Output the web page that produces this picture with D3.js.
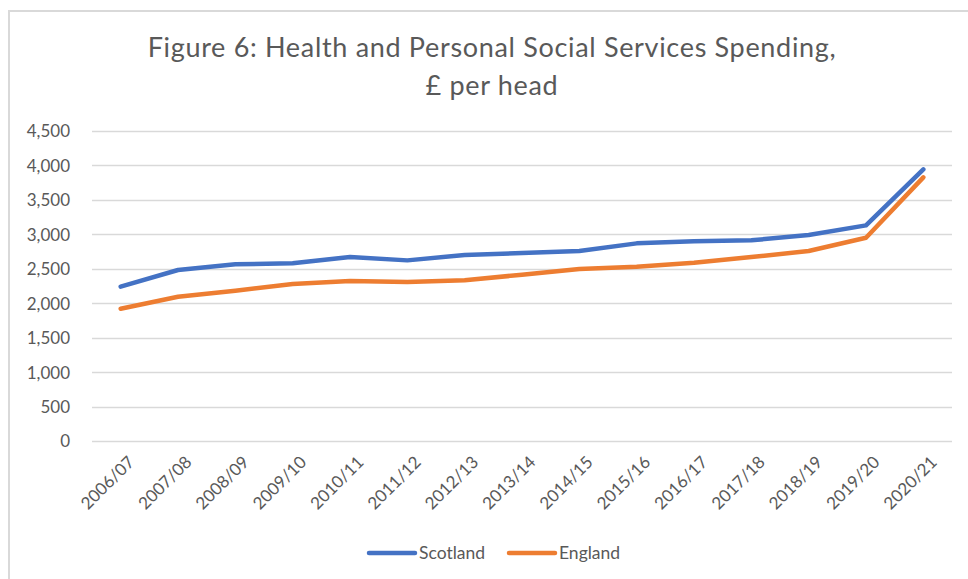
<!DOCTYPE html>
<html>
<head>
<meta charset="utf-8">
<script src="https://cdn.jsdelivr.net/npm/d3@7"></script>
<style>
  html, body { margin: 0; padding: 0; background: #fff; }
  svg { display: block; }
  text { font-family: Lato, "Open Sans", sans-serif; fill: #595959; }
</style>
</head>
<body>
<svg id="chart" width="968" height="579"></svg>
<script>
// Financial years on the category axis
const years = ["2006/07", "2007/08", "2008/09", "2009/10", "2010/11", "2011/12", "2012/13",
  "2013/14", "2014/15", "2015/16", "2016/17", "2017/18", "2018/19", "2019/20", "2020/21"];

// Health and personal social services spending, £ per head
const scotland = [2240, 2482, 2565, 2579, 2670, 2622, 2700, 2729, 2758, 2869, 2898, 2913, 2990, 3130, 3943];
const england  = [1920, 2094, 2181, 2279, 2322, 2308, 2332, 2414, 2496, 2530, 2588, 2670, 2758, 2951, 3827];

const yTicks = [0, 500, 1000, 1500, 2000, 2500, 3000, 3500, 4000, 4500];
const titleLines = ["Figure 6: Health and Personal Social Services Spending,", "£ per head"];

const series = [
  { name: "Scotland", values: scotland, color: "#4472C4" },
  { name: "England",  values: england,  color: "#ED7D31" }
];

const svg = d3.select("#chart");

// Chart frame
svg.append("rect")
  .attr("x", 9).attr("y", 11).attr("width", 980).attr("height", 600)
  .attr("fill", "none").attr("stroke", "#d9d9d9").attr("stroke-width", 2);

const plot = { left: 92, right: 952, top: 131, bottom: 441 };

const x = d3.scalePoint()
  .domain(years)
  .range([plot.left, plot.right])
  .padding(0.5);

const y = d3.scaleLinear()
  .domain([0, 4500])
  .range([plot.bottom, plot.top]);

// Title: two centred lines, spaced out so the first line spans the chart width
const title = svg.append("g");
const titleTexts = titleLines.map((line, i) =>
  title.append("text")
    .attr("x", 492).attr("y", 57 + i * 38)
    .attr("text-anchor", "middle")
    .attr("font-size", 27)
    .text(line));
const firstWidth = titleTexts[0].node().getComputedTextLength();
const spacing = Math.max(0, (688 - firstWidth) / (titleLines[0].length - 1));
titleTexts.forEach(t => t.attr("letter-spacing", spacing));

// Horizontal gridlines
svg.append("g")
  .selectAll("line")
  .data(yTicks)
  .join("line")
  .attr("x1", plot.left).attr("x2", plot.right)
  .attr("y1", d => Math.round(y(d)) + 0.5).attr("y2", d => Math.round(y(d)) + 0.5)
  .attr("stroke", "#d9d9d9").attr("stroke-width", 1.5);

// Y axis labels
const yAxis = d3.axisLeft(y)
  .tickValues(yTicks)
  .tickFormat(d3.format(","))
  .tickSize(0)
  .tickPadding(0);
const yg = svg.append("g")
  .attr("transform", `translate(70,0)`)
  .call(yAxis);
yg.select(".domain").remove();
yg.selectAll("text")
  .attr("font-size", 17)
  .attr("font-family", "Lato, 'Open Sans', sans-serif")
  .attr("fill", "#595959")
  .attr("dy", "0.35em");

// X axis labels, rotated
const xAxis = d3.axisBottom(x).tickSize(0).tickPadding(0);
const xg = svg.append("g")
  .attr("transform", `translate(0,${plot.bottom})`)
  .call(xAxis);
xg.select(".domain").remove();
xg.selectAll("text")
  .attr("font-size", 17)
  .attr("font-family", "Lato, 'Open Sans', sans-serif")
  .attr("fill", "#595959")
  .attr("text-anchor", "end")
  .attr("dy", "0.35em")
  .attr("transform", "translate(10,18) rotate(-45)");

// Series lines
const line = d3.line()
  .x((d, i) => x(years[i]))
  .y(d => y(d));

svg.append("g")
  .selectAll("path")
  .data(series)
  .join("path")
  .attr("d", d => line(d.values))
  .attr("fill", "none")
  .attr("stroke", d => d.color)
  .attr("stroke-width", 4.5)
  .attr("stroke-linejoin", "round")
  .attr("stroke-linecap", "round");

// Legend
const legendX = [369, 509];
const legend = svg.append("g")
  .selectAll("g")
  .data(series)
  .join("g")
  .attr("transform", (d, i) => `translate(${legendX[i]},553)`);
legend.append("line")
  .attr("x1", 0).attr("x2", 46)
  .attr("stroke", d => d.color)
  .attr("stroke-width", 4.5)
  .attr("stroke-linecap", "round");
legend.append("text")
  .attr("x", 50).attr("dy", "0.35em")
  .attr("font-size", 17.5)
  .text(d => d.name);
</script>
</body>
</html>
